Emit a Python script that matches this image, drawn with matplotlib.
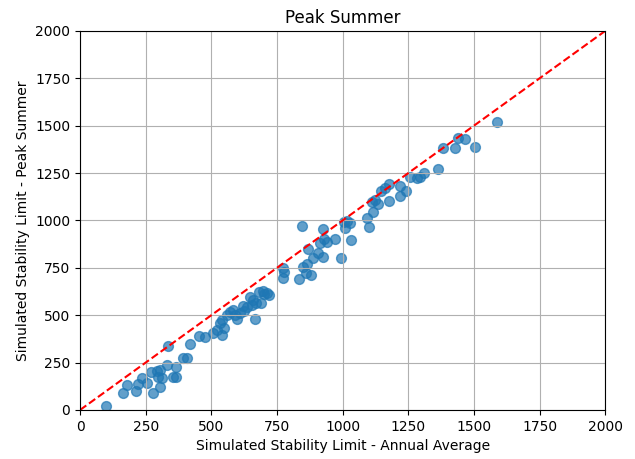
import matplotlib
matplotlib.use("Agg")
import matplotlib.pyplot as plt

# simulated stability limits (annual average vs peak summer)
annual_avg = [99, 165, 180, 213, 222, 237, 254, 278, 269, 292, 298, 305, 311, 305,
              333, 353, 364, 366, 336, 391, 406, 419, 454, 476, 508, 521, 540, 549,
              533, 540, 571, 582, 599, 590, 610, 620, 635, 648, 660, 654, 670, 667,
              683, 698, 711, 721, 688, 772, 775, 772, 834, 851, 861, 879, 866, 870,
              886, 908, 925, 914, 930, 942, 971, 925, 845, 993, 1032, 1006, 1018, 1029,
              1010, 1092, 1102, 1115, 1111, 1124, 1136, 1145, 1160, 1175, 1175, 1217,
              1217, 1241, 1257, 1285, 1295, 1310, 1365, 1384, 1429, 1438, 1467, 1505,
              1587, 560, 625, 700]
peak_summer = [21, 91, 132, 102, 137, 167, 141, 88, 202, 207, 176, 123, 167, 211,
               237, 176, 172, 225, 339, 273, 273, 348, 390, 387, 408, 422, 396, 431,
               461, 475, 519, 528, 479, 501, 510, 549, 542, 598, 580, 554, 563, 479,
               624, 630, 619, 607, 563, 695, 730, 748, 691, 753, 725, 712, 770, 848,
               800, 830, 806, 880, 901, 888, 901, 953, 971, 800, 897, 994, 997, 985,
               958, 1011, 967, 1047, 1099, 1108, 1087, 1157, 1170, 1193, 1103, 1182,
               1129, 1156, 1231, 1222, 1231, 1252, 1270, 1381, 1384, 1433, 1430, 1388,
               1518, 500, 520, 610]

fig = plt.figure(figsize=(6.35, 4.59), dpi=100)
ax = fig.add_axes([0.126, 0.1068, 0.827, 0.8257])
ax.scatter(annual_avg, peak_summer, s=50, alpha=0.7, color="tab:blue")
ax.plot([0, 2000], [0, 2000], "r--")
ax.set_xlim(0, 2000)
ax.set_ylim(0, 2000)
ax.grid(True)
ax.set_title("Peak Summer")
ax.set_xlabel("Simulated Stability Limit - Annual Average")
ax.set_ylabel("Simulated Stability Limit - Peak Summer")
fig.savefig("out.png", dpi=100)
